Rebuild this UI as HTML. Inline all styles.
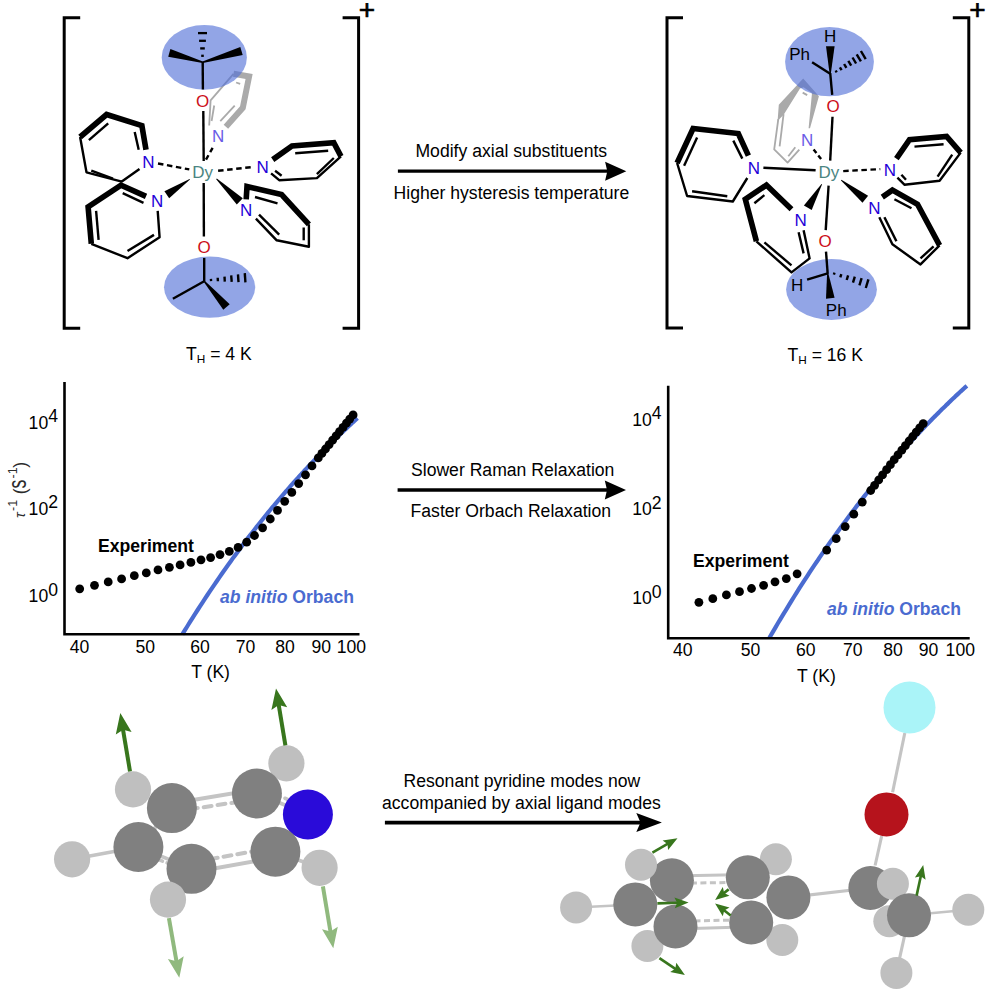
<!DOCTYPE html>
<html><head><meta charset="utf-8"><title>Figure</title>
<style>html,body{margin:0;padding:0;background:#fff}svg{display:block}</style></head>
<body>
<svg width="996" height="996" viewBox="0 0 996 996">
<rect width="996" height="996" fill="#fff"/>
<path d="M80.2 17.7 L64.2 17.7 L64.2 328.2 L80.2 328.2" fill="none" stroke="#000" stroke-width="3.0" stroke-linejoin="miter" stroke-linecap="butt"/>
<path d="M342.6 17.7 L358.6 17.7 L358.6 328.2 L342.6 328.2" fill="none" stroke="#000" stroke-width="3.0" stroke-linejoin="miter" stroke-linecap="butt"/>
<path d="M683.0 17.7 L667.0 17.7 L667.0 328.0 L683.0 328.0" fill="none" stroke="#000" stroke-width="3.0" stroke-linejoin="miter" stroke-linecap="butt"/>
<path d="M952.8 17.7 L968.8 17.7 L968.8 328.0 L952.8 328.0" fill="none" stroke="#000" stroke-width="3.0" stroke-linejoin="miter" stroke-linecap="butt"/>
<text x="366.9" y="19.3" font-family="Liberation Sans, Arial, sans-serif" font-size="28" fill="#000" text-anchor="middle" font-weight="normal" font-style="normal" stroke="#000" stroke-width="0.7">+</text>
<text x="977.5" y="19.1" font-family="Liberation Sans, Arial, sans-serif" font-size="28" fill="#000" text-anchor="middle" font-weight="normal" font-style="normal" stroke="#000" stroke-width="0.7">+</text>
<path d="M233.5 73.9 L210.6 100.4 L209.2 125.5" fill="none" stroke="#aaaaaa" stroke-width="1.8" stroke-linejoin="round" stroke-linecap="butt"/>
<line x1="220.3" y1="121.1" x2="234.7" y2="105.7" stroke="#aaaaaa" stroke-width="1.8" stroke-linecap="butt" />
<line x1="214.2" y1="105.5" x2="211.6" y2="121.0" stroke="#aaaaaa" stroke-width="1.8" stroke-linecap="butt" />
<line x1="236.1" y1="82.5" x2="240.2" y2="83.9" stroke="#aaaaaa" stroke-width="1.8" stroke-linecap="butt" />
<path d="M225.9 126.8 L242.8 107.8 L249.1 76.5 L233.5 73.7" fill="none" stroke="#aaaaaa" stroke-width="6.0" stroke-linejoin="miter" stroke-linecap="butt"/>
<ellipse cx="204.3" cy="57.4" rx="42.6" ry="32.4" fill="#4f6ed7" fill-opacity="0.62"/>
<ellipse cx="209.6" cy="287.2" rx="45.6" ry="30.6" fill="#4f6ed7" fill-opacity="0.62"/>
<text x="218.1" y="141.8" font-family="Liberation Sans, Arial, sans-serif" font-size="17.0" fill="#6a5be6" text-anchor="middle" font-weight="normal" font-style="normal" >N</text>
<line x1="202.7" y1="61.8" x2="202.9" y2="89.6" stroke="#000" stroke-width="2.4" stroke-linecap="butt" />
<polygon points="202.9,61.5 170.4,48.9 168.2,56.7 202.5,63.1" fill="#000"/>
<polygon points="202.9,63.1 242.7,55.0 240.3,47.0 202.5,61.5" fill="#000"/>
<line x1="198.0" y1="33.1" x2="207.0" y2="33.1" stroke="#000" stroke-width="2.3" stroke-linecap="butt" />
<line x1="199.1" y1="40.8" x2="205.9" y2="40.8" stroke="#000" stroke-width="2.3" stroke-linecap="butt" />
<line x1="200.2" y1="48.4" x2="204.8" y2="48.4" stroke="#000" stroke-width="2.3" stroke-linecap="butt" />
<line x1="201.2" y1="55.8" x2="203.8" y2="55.8" stroke="#000" stroke-width="2.3" stroke-linecap="butt" />
<text x="202.6" y="106.6" font-family="Liberation Sans, Arial, sans-serif" font-size="17.0" fill="#cc1020" text-anchor="middle" font-weight="normal" font-style="normal" >O</text>
<line x1="203.3" y1="111.0" x2="203.7" y2="161.0" stroke="#000" stroke-width="2.4" stroke-linecap="butt" />
<line x1="203.7" y1="183.0" x2="203.9" y2="236.5" stroke="#000" stroke-width="2.4" stroke-linecap="butt" />
<text x="204.2" y="252.7" font-family="Liberation Sans, Arial, sans-serif" font-size="17.0" fill="#cc1020" text-anchor="middle" font-weight="normal" font-style="normal" >O</text>
<line x1="204.2" y1="257.9" x2="204.2" y2="281.7" stroke="#000" stroke-width="2.4" stroke-linecap="butt" />
<line x1="204.2" y1="281.2" x2="172.9" y2="298.8" stroke="#000" stroke-width="2.4" stroke-linecap="butt" />
<line x1="211.1" y1="281.1" x2="210.9" y2="278.9" stroke="#000" stroke-width="2.4" stroke-linecap="butt" />
<line x1="217.9" y1="281.3" x2="217.7" y2="277.7" stroke="#000" stroke-width="2.4" stroke-linecap="butt" />
<line x1="224.8" y1="281.6" x2="224.5" y2="276.6" stroke="#000" stroke-width="2.4" stroke-linecap="butt" />
<line x1="231.7" y1="281.8" x2="231.2" y2="275.4" stroke="#000" stroke-width="2.4" stroke-linecap="butt" />
<line x1="238.5" y1="282.1" x2="238.0" y2="274.3" stroke="#000" stroke-width="2.4" stroke-linecap="butt" />
<line x1="245.4" y1="282.3" x2="244.8" y2="273.1" stroke="#000" stroke-width="2.4" stroke-linecap="butt" />
<polygon points="203.7,281.7 223.3,309.8 229.7,304.2 204.7,280.7" fill="#000"/>
<text x="202.7" y="178.3" font-family="Liberation Sans, Arial, sans-serif" font-size="17.0" fill="#4b8582" text-anchor="middle" font-weight="normal" font-style="normal" >Dy</text>
<line x1="158.0" y1="163.5" x2="189.3" y2="169.4" stroke="#000" stroke-width="2.4" stroke-linecap="butt" stroke-dasharray="5.5 3.6"/>
<line x1="218.1" y1="170.8" x2="254.3" y2="166.8" stroke="#000" stroke-width="2.4" stroke-linecap="butt" stroke-dasharray="5.5 3.6"/>
<line x1="206.0" y1="159.6" x2="213.3" y2="146.7" stroke="#000" stroke-width="2.4" stroke-linecap="butt" stroke-dasharray="5 3.5"/>
<polygon points="189.6,178.9 164.4,191.3 169.2,198.3 190.0,179.5" fill="#000"/>
<polygon points="216.2,179.2 236.8,204.5 242.8,198.3 216.8,178.6" fill="#000"/>
<path d="M80.1 137.0 L86.5 172.3 L121.8 181.6 L139.5 169.0" fill="none" stroke="#000" stroke-width="2.4" stroke-linejoin="round" stroke-linecap="butt"/>
<line x1="138.7" y1="149.8" x2="134.7" y2="132.1" stroke="#000" stroke-width="2.4" stroke-linecap="butt" />
<line x1="108.2" y1="123.3" x2="88.9" y2="140.2" stroke="#000" stroke-width="2.4" stroke-linecap="butt" />
<line x1="91.3" y1="170.7" x2="113.0" y2="178.7" stroke="#000" stroke-width="2.4" stroke-linecap="butt" />
<path d="M146.0 149.8 L141.9 125.7 L106.6 114.5 L80.1 137.0" fill="none" stroke="#000" stroke-width="5.6" stroke-linejoin="miter" stroke-linecap="butt"/>
<text x="148.4" y="168.0" font-family="Liberation Sans, Arial, sans-serif" font-size="17.0" fill="#2400d8" text-anchor="middle" font-weight="normal" font-style="normal" >N</text>
<path d="M91.3 243.8 L127.5 258.2 L159.6 237.3 L157.7 210.8" fill="none" stroke="#000" stroke-width="2.4" stroke-linejoin="round" stroke-linecap="butt"/>
<line x1="143.5" y1="202.8" x2="122.7" y2="193.2" stroke="#000" stroke-width="2.4" stroke-linecap="butt" />
<line x1="96.1" y1="210.8" x2="98.6" y2="239.8" stroke="#000" stroke-width="2.4" stroke-linecap="butt" />
<line x1="127.5" y1="251.0" x2="154.0" y2="234.9" stroke="#000" stroke-width="2.4" stroke-linecap="butt" />
<path d="M146.0 196.4 L121.0 185.1 L88.1 206.8 L91.3 243.8" fill="none" stroke="#000" stroke-width="5.6" stroke-linejoin="miter" stroke-linecap="butt"/>
<text x="157.2" y="207.3" font-family="Liberation Sans, Arial, sans-serif" font-size="17.0" fill="#2400d8" text-anchor="middle" font-weight="normal" font-style="normal" >N</text>
<path d="M341.0 156.4 L316.9 178.1 L279.2 180.2 L271.1 173.3" fill="none" stroke="#000" stroke-width="2.4" stroke-linejoin="round" stroke-linecap="butt"/>
<line x1="295.2" y1="153.2" x2="328.2" y2="150.8" stroke="#000" stroke-width="2.4" stroke-linecap="butt" />
<line x1="333.8" y1="158.0" x2="316.9" y2="174.1" stroke="#000" stroke-width="2.4" stroke-linecap="butt" />
<line x1="275.1" y1="170.8" x2="281.6" y2="175.7" stroke="#000" stroke-width="2.4" stroke-linecap="butt" />
<path d="M272.7 159.6 L292.0 146.0 L333.8 142.7 L341.0 156.4" fill="none" stroke="#000" stroke-width="5.6" stroke-linejoin="miter" stroke-linecap="butt"/>
<text x="262.6" y="173.4" font-family="Liberation Sans, Arial, sans-serif" font-size="17.0" fill="#2400d8" text-anchor="middle" font-weight="normal" font-style="normal" >N</text>
<path d="M308.9 224.3 L308.9 246.7 L276.7 240.3 L255.9 218.6" fill="none" stroke="#000" stroke-width="2.4" stroke-linejoin="round" stroke-linecap="butt"/>
<line x1="255.0" y1="197.0" x2="277.5" y2="203.4" stroke="#000" stroke-width="2.4" stroke-linecap="butt" />
<line x1="303.7" y1="227.5" x2="303.7" y2="240.3" stroke="#000" stroke-width="2.4" stroke-linecap="butt" />
<line x1="259.0" y1="214.6" x2="279.2" y2="234.7" stroke="#000" stroke-width="2.4" stroke-linecap="butt" />
<path d="M246.2 199.4 L247.0 186.5 L281.6 194.5 L308.9 224.3" fill="none" stroke="#000" stroke-width="5.6" stroke-linejoin="miter" stroke-linecap="butt"/>
<text x="246.2" y="216.0" font-family="Liberation Sans, Arial, sans-serif" font-size="17.0" fill="#2400d8" text-anchor="middle" font-weight="normal" font-style="normal" >N</text>
<text x="186" y="360.2" font-family="Liberation Sans, Arial, sans-serif" font-size="17.6" fill="#000">T<tspan font-size="11.8" dy="3.2">H</tspan><tspan dy="-3.2"> = 4 K</tspan></text>
<path d="M778.3 119.2 L774.2 149.3 L787.6 162.6 L799.3 149.6" fill="none" stroke="#aaaaaa" stroke-width="1.8" stroke-linejoin="round" stroke-linecap="butt"/>
<line x1="783.6" y1="114.2" x2="779.6" y2="146.3" stroke="#aaaaaa" stroke-width="1.8" stroke-linecap="butt" />
<line x1="788.3" y1="156.3" x2="795.3" y2="147.3" stroke="#aaaaaa" stroke-width="1.8" stroke-linecap="butt" />
<line x1="802.7" y1="92.6" x2="807.2" y2="95.1" stroke="#aaaaaa" stroke-width="1.8" stroke-linecap="butt" />
<polygon points="808.6,128.3 810,128.3 818.9,96.3 803.2,78.6 778.8,104.8 777.6,121 783.8,114.4 800,88.6 803.6,87.2 812,93" fill="#aaaaaa"/>
<ellipse cx="829.5" cy="61.7" rx="44.4" ry="34.6" fill="#4f6ed7" fill-opacity="0.62"/>
<ellipse cx="831.5" cy="289.5" rx="45.4" ry="30.4" fill="#4f6ed7" fill-opacity="0.62"/>
<text x="807.2" y="145.9" font-family="Liberation Sans, Arial, sans-serif" font-size="17.0" fill="#6a5be6" text-anchor="middle" font-weight="normal" font-style="normal" >N</text>
<line x1="830.2" y1="73.2" x2="832.2" y2="94.8" stroke="#000" stroke-width="2.4" stroke-linecap="butt" />
<polygon points="830.8,73.7 834.6,46.3 826.0,46.3 829.6,73.7" fill="#000"/>
<line x1="830.2" y1="73.7" x2="812.1" y2="62.2" stroke="#000" stroke-width="2.4" stroke-linecap="butt" />
<line x1="836.7" y1="72.3" x2="835.7" y2="70.5" stroke="#000" stroke-width="2.4" stroke-linecap="butt" />
<line x1="841.6" y1="70.1" x2="839.9" y2="67.3" stroke="#000" stroke-width="2.4" stroke-linecap="butt" />
<line x1="846.4" y1="67.9" x2="844.1" y2="64.0" stroke="#000" stroke-width="2.4" stroke-linecap="butt" />
<line x1="851.2" y1="65.7" x2="848.3" y2="60.8" stroke="#000" stroke-width="2.4" stroke-linecap="butt" />
<line x1="856.1" y1="63.5" x2="852.5" y2="57.5" stroke="#000" stroke-width="2.4" stroke-linecap="butt" />
<line x1="860.9" y1="61.4" x2="856.7" y2="54.3" stroke="#000" stroke-width="2.4" stroke-linecap="butt" />
<line x1="865.7" y1="59.2" x2="860.9" y2="51.0" stroke="#000" stroke-width="2.4" stroke-linecap="butt" />
<text x="830.2" y="41.8" font-family="Liberation Sans, Arial, sans-serif" font-size="17.0" fill="#000" text-anchor="middle" font-weight="normal" font-style="normal" >H</text>
<text x="799.6" y="59.9" font-family="Liberation Sans, Arial, sans-serif" font-size="17.0" fill="#000" text-anchor="middle" font-weight="normal" font-style="normal" >Ph</text>
<text x="833.0" y="112.0" font-family="Liberation Sans, Arial, sans-serif" font-size="17.0" fill="#cc1020" text-anchor="middle" font-weight="normal" font-style="normal" >O</text>
<line x1="832.5" y1="116.7" x2="830.2" y2="160.6" stroke="#000" stroke-width="2.4" stroke-linecap="butt" />
<line x1="828.6" y1="185.6" x2="825.7" y2="230.1" stroke="#000" stroke-width="2.4" stroke-linecap="butt" />
<text x="825.2" y="246.7" font-family="Liberation Sans, Arial, sans-serif" font-size="17.0" fill="#cc1020" text-anchor="middle" font-weight="normal" font-style="normal" >O</text>
<line x1="826.0" y1="251.6" x2="827.7" y2="273.9" stroke="#000" stroke-width="2.4" stroke-linecap="butt" />
<line x1="827.7" y1="273.4" x2="807.1" y2="279.7" stroke="#000" stroke-width="2.4" stroke-linecap="butt" />
<text x="797.1" y="291.4" font-family="Liberation Sans, Arial, sans-serif" font-size="17.0" fill="#000" text-anchor="middle" font-weight="normal" font-style="normal" >H</text>
<polygon points="827.1,273.5 826.0,298.8 834.6,297.8 828.3,273.3" fill="#000"/>
<text x="836.2" y="316.0" font-family="Liberation Sans, Arial, sans-serif" font-size="17.0" fill="#000" text-anchor="middle" font-weight="normal" font-style="normal" >Ph</text>
<line x1="833.9" y1="274.7" x2="834.5" y2="272.7" stroke="#000" stroke-width="2.4" stroke-linecap="butt" />
<line x1="840.3" y1="277.3" x2="841.3" y2="274.1" stroke="#000" stroke-width="2.4" stroke-linecap="butt" />
<line x1="846.7" y1="280.0" x2="848.1" y2="275.4" stroke="#000" stroke-width="2.4" stroke-linecap="butt" />
<line x1="853.0" y1="282.7" x2="854.8" y2="276.7" stroke="#000" stroke-width="2.4" stroke-linecap="butt" />
<line x1="859.4" y1="285.3" x2="861.6" y2="278.1" stroke="#000" stroke-width="2.4" stroke-linecap="butt" />
<line x1="865.8" y1="288.0" x2="868.4" y2="279.4" stroke="#000" stroke-width="2.4" stroke-linecap="butt" />
<text x="828.9" y="178.4" font-family="Liberation Sans, Arial, sans-serif" font-size="17.0" fill="#4b8582" text-anchor="middle" font-weight="normal" font-style="normal" >Dy</text>
<line x1="763.4" y1="167.7" x2="815.6" y2="170.3" stroke="#000" stroke-width="2.4" stroke-linecap="butt" />
<line x1="843.2" y1="171.1" x2="880.3" y2="169.1" stroke="#000" stroke-width="2.4" stroke-linecap="butt" stroke-dasharray="5.5 3.6"/>
<line x1="813.6" y1="149.6" x2="821.6" y2="159.6" stroke="#000" stroke-width="2.4" stroke-linecap="butt" stroke-dasharray="4.5 3"/>
<polygon points="821.5,183.9 803.9,205.4 811.7,210.0 822.1,184.3" fill="#000"/>
<polygon points="841.0,180.4 862.5,202.7 868.1,195.7 841.4,179.8" fill="#000"/>
<path d="M677.1 163.0 L687.1 196.0 L732.8 201.5 L747.3 178.0" fill="none" stroke="#000" stroke-width="2.4" stroke-linejoin="round" stroke-linecap="butt"/>
<line x1="742.3" y1="158.6" x2="733.3" y2="140.6" stroke="#000" stroke-width="2.4" stroke-linecap="butt" />
<line x1="697.1" y1="137.6" x2="684.1" y2="165.7" stroke="#000" stroke-width="2.4" stroke-linecap="butt" />
<line x1="692.1" y1="191.3" x2="727.3" y2="196.2" stroke="#000" stroke-width="2.4" stroke-linecap="butt" />
<path d="M748.4 155.6 L738.3 133.5 L693.1 128.5 L677.1 163.0" fill="none" stroke="#000" stroke-width="5.6" stroke-linejoin="miter" stroke-linecap="butt"/>
<text x="754.0" y="174.4" font-family="Liberation Sans, Arial, sans-serif" font-size="17.0" fill="#2400d8" text-anchor="middle" font-weight="normal" font-style="normal" >N</text>
<path d="M756.4 241.3 L791.5 272.4 L809.6 258.4 L803.6 230.3" fill="none" stroke="#000" stroke-width="2.4" stroke-linejoin="round" stroke-linecap="butt"/>
<line x1="764.4" y1="195.1" x2="754.4" y2="203.2" stroke="#000" stroke-width="2.4" stroke-linecap="butt" />
<line x1="764.4" y1="242.3" x2="791.5" y2="265.4" stroke="#000" stroke-width="2.4" stroke-linecap="butt" />
<line x1="798.6" y1="232.3" x2="803.6" y2="253.4" stroke="#000" stroke-width="2.4" stroke-linecap="butt" />
<path d="M791.5 209.2 L766.4 185.1 L745.3 199.2 L756.4 241.3" fill="none" stroke="#000" stroke-width="5.6" stroke-linejoin="miter" stroke-linecap="butt"/>
<text x="800.6" y="225.7" font-family="Liberation Sans, Arial, sans-serif" font-size="17.0" fill="#2400d8" text-anchor="middle" font-weight="normal" font-style="normal" >N</text>
<path d="M960.7 152.6 L939.6 180.7 L904.4 184.7 L897.4 177.7" fill="none" stroke="#000" stroke-width="2.4" stroke-linejoin="round" stroke-linecap="butt"/>
<line x1="914.5" y1="146.6" x2="943.6" y2="144.2" stroke="#000" stroke-width="2.4" stroke-linecap="butt" />
<line x1="952.2" y1="154.6" x2="937.6" y2="176.7" stroke="#000" stroke-width="2.4" stroke-linecap="butt" />
<line x1="901.4" y1="174.7" x2="906.0" y2="179.7" stroke="#000" stroke-width="2.4" stroke-linecap="butt" />
<path d="M896.4 158.6 L909.5 139.6 L946.6 136.5 L960.7 152.6" fill="none" stroke="#000" stroke-width="5.6" stroke-linejoin="miter" stroke-linecap="butt"/>
<text x="890.0" y="175.8" font-family="Liberation Sans, Arial, sans-serif" font-size="17.0" fill="#2400d8" text-anchor="middle" font-weight="normal" font-style="normal" >N</text>
<path d="M939.6 245.3 L920.5 264.4 L892.4 244.3 L879.3 217.2" fill="none" stroke="#000" stroke-width="2.4" stroke-linejoin="round" stroke-linecap="butt"/>
<line x1="894.4" y1="199.2" x2="911.5" y2="208.2" stroke="#000" stroke-width="2.4" stroke-linecap="butt" />
<line x1="933.6" y1="246.3" x2="920.5" y2="258.4" stroke="#000" stroke-width="2.4" stroke-linecap="butt" />
<line x1="884.4" y1="217.2" x2="896.4" y2="241.3" stroke="#000" stroke-width="2.4" stroke-linecap="butt" />
<path d="M882.3 197.1 L892.4 190.1 L917.5 204.2 L939.6 245.3" fill="none" stroke="#000" stroke-width="5.6" stroke-linejoin="miter" stroke-linecap="butt"/>
<text x="874.3" y="213.9" font-family="Liberation Sans, Arial, sans-serif" font-size="17.0" fill="#2400d8" text-anchor="middle" font-weight="normal" font-style="normal" >N</text>
<text x="787.5" y="360.5" font-family="Liberation Sans, Arial, sans-serif" font-size="17.6" fill="#000">T<tspan font-size="11.8" dy="3.2">H</tspan><tspan dy="-3.2"> = 16 K</tspan></text>
<text x="511.3" y="157.2" font-family="Liberation Sans, Arial, sans-serif" font-size="17.6" fill="#000" text-anchor="middle" font-weight="normal" font-style="normal" >Modify axial substituents</text>
<line x1="397.9" y1="171.2" x2="608.3" y2="171.2" stroke="#000" stroke-width="3.3" stroke-linecap="butt" />
<polygon points="626.3,171.2 605.1,161.7 607.3,171.2 605.1,180.7" fill="#000"/>
<text x="511.4" y="199.0" font-family="Liberation Sans, Arial, sans-serif" font-size="17.6" fill="#000" text-anchor="middle" font-weight="normal" font-style="normal" >Higher hysteresis temperature</text>
<text x="512.7" y="475.8" font-family="Liberation Sans, Arial, sans-serif" font-size="17.6" fill="#000" text-anchor="middle" font-weight="normal" font-style="normal" >Slower Raman Relaxation</text>
<line x1="397.6" y1="490.0" x2="608.0" y2="490.0" stroke="#000" stroke-width="3.3" stroke-linecap="butt" />
<polygon points="626.0,490.0 604.8,480.5 607.0,490.0 604.8,499.5" fill="#000"/>
<text x="510.8" y="516.6" font-family="Liberation Sans, Arial, sans-serif" font-size="17.6" fill="#000" text-anchor="middle" font-weight="normal" font-style="normal" >Faster Orbach Relaxation</text>
<text x="521.9" y="786.7" font-family="Liberation Sans, Arial, sans-serif" font-size="17.6" fill="#000" text-anchor="middle" font-weight="normal" font-style="normal" >Resonant pyridine modes now</text>
<text x="521.4" y="809.1" font-family="Liberation Sans, Arial, sans-serif" font-size="17.6" fill="#000" text-anchor="middle" font-weight="normal" font-style="normal" >accompanied by axial ligand modes</text>
<line x1="384.9" y1="822.6" x2="641.5" y2="822.6" stroke="#000" stroke-width="3.6" stroke-linecap="butt" />
<polygon points="661.9,822.6 636.3,813.1 640.5,822.6 636.3,832.1" fill="#000"/>
<path d="M182.3 634.4 L184.9 630.1 L187.5 626.0 L190.0 621.9 L192.6 617.8 L195.1 613.9 L197.6 610.0 L200.1 606.1 L202.6 602.3 L205.0 598.6 L207.4 595.0 L209.8 591.4 L212.2 587.9 L214.6 584.4 L216.9 581.0 L219.2 577.6 L221.5 574.3 L223.8 571.0 L226.1 567.8 L228.4 564.6 L230.6 561.5 L232.8 558.4 L235.0 555.4 L237.2 552.4 L239.4 549.5 L241.5 546.6 L243.7 543.7 L245.8 540.9 L247.9 538.1 L250.0 535.4 L252.1 532.7 L254.2 530.1 L256.2 527.4 L258.3 524.8 L260.3 522.3 L262.3 519.8 L264.3 517.3 L266.3 514.8 L268.2 512.4 L270.2 510.0 L272.1 507.7 L274.1 505.4 L276.0 503.1 L277.9 500.8 L279.8 498.6 L281.7 496.3 L283.6 494.2 L285.4 492.0 L287.3 489.9 L289.1 487.8 L290.9 485.7 L292.7 483.7 L294.5 481.6 L296.3 479.6 L298.1 477.7 L299.9 475.7 L301.6 473.8 L303.4 471.9 L305.1 470.0 L306.9 468.1 L308.6 466.3 L310.3 464.5 L312.0 462.7 L313.7 460.9 L315.4 459.1 L317.0 457.4 L318.7 455.7 L320.3 454.0 L322.0 452.3 L323.6 450.6 L325.3 449.0 L326.9 447.3 L328.5 445.7 L330.1 444.1 L331.7 442.6 L333.2 441.0 L334.8 439.5 L336.4 437.9 L337.9 436.4 L339.5 434.9 L341.0 433.5 L342.6 432.0 L344.1 430.5 L345.6 429.1 L347.1 427.7 L348.6 426.3 L350.1 424.9 L351.6 423.5 L353.1 422.2 L354.6 420.8 L356.0 419.5 L357.5 418.2" fill="none" stroke="#4a6bd0" stroke-width="4.2" stroke-linejoin="round" stroke-linecap="butt"/>
<circle cx="79.7" cy="588.8" r="4.4" fill="#000"/>
<circle cx="94.5" cy="585.3" r="4.4" fill="#000"/>
<circle cx="108.2" cy="581.9" r="4.4" fill="#000"/>
<circle cx="121.6" cy="578.9" r="4.4" fill="#000"/>
<circle cx="134.3" cy="575.7" r="4.4" fill="#000"/>
<circle cx="146.3" cy="572.9" r="4.4" fill="#000"/>
<circle cx="158.0" cy="569.9" r="4.4" fill="#000"/>
<circle cx="169.4" cy="567.3" r="4.4" fill="#000"/>
<circle cx="180.1" cy="564.9" r="4.4" fill="#000"/>
<circle cx="190.9" cy="562.4" r="4.4" fill="#000"/>
<circle cx="201.0" cy="559.8" r="4.4" fill="#000"/>
<circle cx="210.6" cy="557.6" r="4.4" fill="#000"/>
<circle cx="220.0" cy="554.6" r="4.4" fill="#000"/>
<circle cx="229.3" cy="551.4" r="4.4" fill="#000"/>
<circle cx="238.1" cy="547.4" r="4.4" fill="#000"/>
<circle cx="246.7" cy="542.2" r="4.4" fill="#000"/>
<circle cx="254.5" cy="535.5" r="4.4" fill="#000"/>
<circle cx="262.6" cy="527.8" r="4.4" fill="#000"/>
<circle cx="270.3" cy="519.0" r="4.4" fill="#000"/>
<circle cx="277.5" cy="510.4" r="4.4" fill="#000"/>
<circle cx="284.7" cy="501.3" r="4.4" fill="#000"/>
<circle cx="291.8" cy="492.4" r="4.4" fill="#000"/>
<circle cx="298.7" cy="483.6" r="4.4" fill="#000"/>
<circle cx="305.5" cy="474.8" r="4.4" fill="#000"/>
<circle cx="312.0" cy="465.9" r="4.4" fill="#000"/>
<circle cx="318.3" cy="457.9" r="4.4" fill="#000"/>
<circle cx="321.9" cy="453.4" r="4.4" fill="#000"/>
<circle cx="325.5" cy="449.0" r="4.4" fill="#000"/>
<circle cx="329.1" cy="444.6" r="4.4" fill="#000"/>
<circle cx="332.6" cy="440.2" r="4.4" fill="#000"/>
<circle cx="336.1" cy="435.9" r="4.4" fill="#000"/>
<circle cx="339.5" cy="431.6" r="4.4" fill="#000"/>
<circle cx="343.0" cy="427.4" r="4.4" fill="#000"/>
<circle cx="346.4" cy="423.2" r="4.4" fill="#000"/>
<circle cx="349.7" cy="419.1" r="4.4" fill="#000"/>
<circle cx="353.1" cy="414.9" r="4.4" fill="#000"/>
<path d="M64.5 382.0 L64.5 634.2 L359.5 634.2" fill="none" stroke="#000" stroke-width="2.6" stroke-linejoin="miter" stroke-linecap="butt"/>
<text x="79.5" y="652.8" font-family="Liberation Sans, Arial, sans-serif" font-size="17.6" fill="#000" text-anchor="middle" font-weight="normal" font-style="normal" >40</text>
<text x="145.3" y="652.8" font-family="Liberation Sans, Arial, sans-serif" font-size="17.6" fill="#000" text-anchor="middle" font-weight="normal" font-style="normal" >50</text>
<text x="200.0" y="652.8" font-family="Liberation Sans, Arial, sans-serif" font-size="17.6" fill="#000" text-anchor="middle" font-weight="normal" font-style="normal" >60</text>
<text x="245.6" y="652.8" font-family="Liberation Sans, Arial, sans-serif" font-size="17.6" fill="#000" text-anchor="middle" font-weight="normal" font-style="normal" >70</text>
<text x="285.1" y="652.8" font-family="Liberation Sans, Arial, sans-serif" font-size="17.6" fill="#000" text-anchor="middle" font-weight="normal" font-style="normal" >80</text>
<text x="321.3" y="652.8" font-family="Liberation Sans, Arial, sans-serif" font-size="17.6" fill="#000" text-anchor="middle" font-weight="normal" font-style="normal" >90</text>
<text x="351.4" y="652.8" font-family="Liberation Sans, Arial, sans-serif" font-size="17.6" fill="#000" text-anchor="middle" font-weight="normal" font-style="normal" >100</text>
<text x="210.6" y="677.5" font-family="Liberation Sans, Arial, sans-serif" font-size="17.6" fill="#000" text-anchor="middle" font-weight="normal" font-style="normal" >T (K)</text>
<text x="28.6" y="428.6" font-family="Liberation Sans, Arial, sans-serif" font-size="17.6" fill="#000" text-anchor="start" font-weight="normal" font-style="normal" >10</text>
<text x="48.2" y="421.8" font-family="Liberation Sans, Arial, sans-serif" font-size="17.6" fill="#000" text-anchor="start" font-weight="normal" font-style="normal" >4</text>
<text x="28.6" y="514.6" font-family="Liberation Sans, Arial, sans-serif" font-size="17.6" fill="#000" text-anchor="start" font-weight="normal" font-style="normal" >10</text>
<text x="48.2" y="508.2" font-family="Liberation Sans, Arial, sans-serif" font-size="17.6" fill="#000" text-anchor="start" font-weight="normal" font-style="normal" >2</text>
<text x="28.6" y="602.0" font-family="Liberation Sans, Arial, sans-serif" font-size="17.6" fill="#000" text-anchor="start" font-weight="normal" font-style="normal" >10</text>
<text x="48.2" y="595.5" font-family="Liberation Sans, Arial, sans-serif" font-size="17.6" fill="#000" text-anchor="start" font-weight="normal" font-style="normal" >0</text>
<g transform="translate(25.7,518) rotate(-90)" font-family="Liberation Sans, Arial, sans-serif" fill="#2c2c2c"><text x="0" y="-0.5" font-size="15" font-style="italic">τ</text><text x="7" y="-8.7" font-size="12.5">-1</text><text x="23.8" y="0" font-size="17.6">(</text><text transform="translate(29.6,0) scale(1,1.42)" font-size="17.6">s</text><text x="39.6" y="-8.7" font-size="12.5">-1</text><text x="50.3" y="0" font-size="17.6">)</text></g>
<text x="98.0" y="551.7" font-family="Liberation Sans, Arial, sans-serif" font-size="17.6" fill="#000" text-anchor="start" font-weight="bold" font-style="normal" >Experiment</text>
<text x="220" y="603" font-family="Liberation Sans, Arial, sans-serif" font-size="17.6" fill="#4a6bd0" font-weight="bold"><tspan font-style="italic">ab initio</tspan> Orbach</text>
<path d="M769.4 637.8 L772.3 632.9 L775.1 628.1 L777.9 623.3 L780.7 618.6 L783.4 614.1 L786.2 609.6 L788.9 605.1 L791.5 600.8 L794.2 596.5 L796.8 592.4 L799.4 588.2 L802.0 584.2 L804.6 580.2 L807.1 576.3 L809.6 572.4 L812.1 568.6 L814.6 564.9 L817.1 561.3 L819.5 557.6 L821.9 554.1 L824.4 550.6 L826.7 547.2 L829.1 543.8 L831.4 540.4 L833.8 537.2 L836.1 533.9 L838.4 530.7 L840.7 527.6 L842.9 524.5 L845.2 521.5 L847.4 518.5 L849.6 515.5 L851.8 512.6 L854.0 509.7 L856.1 506.9 L858.3 504.1 L860.4 501.3 L862.5 498.6 L864.6 495.9 L866.7 493.3 L868.8 490.7 L870.9 488.1 L872.9 485.6 L874.9 483.1 L877.0 480.6 L879.0 478.2 L881.0 475.8 L882.9 473.4 L884.9 471.1 L886.9 468.7 L888.8 466.5 L890.7 464.2 L892.6 462.0 L894.5 459.8 L896.4 457.6 L898.3 455.5 L900.2 453.4 L902.1 451.3 L903.9 449.2 L905.7 447.2 L907.6 445.1 L909.4 443.1 L911.2 441.2 L913.0 439.2 L914.8 437.3 L916.5 435.4 L918.3 433.5 L920.0 431.7 L921.8 429.8 L923.5 428.0 L925.2 426.2 L926.9 424.4 L928.6 422.7 L930.3 421.0 L932.0 419.2 L933.7 417.5 L935.4 415.9 L937.0 414.2 L938.7 412.6 L940.3 410.9 L941.9 409.3 L943.6 407.7 L945.2 406.2 L946.8 404.6 L948.4 403.1 L950.0 401.5 L951.5 400.0 L953.1 398.5 L954.7 397.1 L956.2 395.6 L957.8 394.1 L959.3 392.7 L960.8 391.3 L962.4 389.9 L963.9 388.5 L965.4 387.1 L966.9 385.8" fill="none" stroke="#4a6bd0" stroke-width="4.2" stroke-linejoin="round" stroke-linecap="butt"/>
<circle cx="698.9" cy="602.3" r="4.4" fill="#000"/>
<circle cx="712.8" cy="598.7" r="4.4" fill="#000"/>
<circle cx="726.4" cy="594.9" r="4.4" fill="#000"/>
<circle cx="739.5" cy="591.7" r="4.4" fill="#000"/>
<circle cx="751.5" cy="588.5" r="4.4" fill="#000"/>
<circle cx="763.6" cy="585.3" r="4.4" fill="#000"/>
<circle cx="775.0" cy="581.8" r="4.4" fill="#000"/>
<circle cx="786.3" cy="578.6" r="4.4" fill="#000"/>
<circle cx="797.1" cy="573.8" r="4.4" fill="#000"/>
<circle cx="826.7" cy="550.1" r="4.4" fill="#000"/>
<circle cx="836.2" cy="538.7" r="4.4" fill="#000"/>
<circle cx="845.2" cy="526.6" r="4.4" fill="#000"/>
<circle cx="853.8" cy="514.2" r="4.4" fill="#000"/>
<circle cx="862.3" cy="502.1" r="4.4" fill="#000"/>
<circle cx="870.7" cy="490.5" r="4.4" fill="#000"/>
<circle cx="874.6" cy="485.3" r="4.4" fill="#000"/>
<circle cx="878.7" cy="480.0" r="4.4" fill="#000"/>
<circle cx="882.6" cy="474.8" r="4.4" fill="#000"/>
<circle cx="886.6" cy="469.7" r="4.4" fill="#000"/>
<circle cx="890.4" cy="464.7" r="4.4" fill="#000"/>
<circle cx="894.2" cy="459.7" r="4.4" fill="#000"/>
<circle cx="898.0" cy="454.9" r="4.4" fill="#000"/>
<circle cx="901.8" cy="450.2" r="4.4" fill="#000"/>
<circle cx="905.4" cy="445.6" r="4.4" fill="#000"/>
<circle cx="909.1" cy="441.0" r="4.4" fill="#000"/>
<circle cx="912.7" cy="436.5" r="4.4" fill="#000"/>
<circle cx="916.2" cy="432.1" r="4.4" fill="#000"/>
<circle cx="919.7" cy="427.8" r="4.4" fill="#000"/>
<circle cx="923.2" cy="423.6" r="4.4" fill="#000"/>
<path d="M668.2 385.7 L668.2 638.2 L969.7 638.2" fill="none" stroke="#000" stroke-width="2.6" stroke-linejoin="miter" stroke-linecap="butt"/>
<text x="682.7" y="656.4" font-family="Liberation Sans, Arial, sans-serif" font-size="17.6" fill="#000" text-anchor="middle" font-weight="normal" font-style="normal" >40</text>
<text x="750.5" y="656.4" font-family="Liberation Sans, Arial, sans-serif" font-size="17.6" fill="#000" text-anchor="middle" font-weight="normal" font-style="normal" >50</text>
<text x="805.7" y="656.4" font-family="Liberation Sans, Arial, sans-serif" font-size="17.6" fill="#000" text-anchor="middle" font-weight="normal" font-style="normal" >60</text>
<text x="852.8" y="656.4" font-family="Liberation Sans, Arial, sans-serif" font-size="17.6" fill="#000" text-anchor="middle" font-weight="normal" font-style="normal" >70</text>
<text x="893.0" y="656.4" font-family="Liberation Sans, Arial, sans-serif" font-size="17.6" fill="#000" text-anchor="middle" font-weight="normal" font-style="normal" >80</text>
<text x="928.5" y="656.4" font-family="Liberation Sans, Arial, sans-serif" font-size="17.6" fill="#000" text-anchor="middle" font-weight="normal" font-style="normal" >90</text>
<text x="960.3" y="656.4" font-family="Liberation Sans, Arial, sans-serif" font-size="17.6" fill="#000" text-anchor="middle" font-weight="normal" font-style="normal" >100</text>
<text x="816.4" y="682.3" font-family="Liberation Sans, Arial, sans-serif" font-size="17.6" fill="#000" text-anchor="middle" font-weight="normal" font-style="normal" >T (K)</text>
<text x="632.2" y="425.8" font-family="Liberation Sans, Arial, sans-serif" font-size="17.6" fill="#000" text-anchor="start" font-weight="normal" font-style="normal" >10</text>
<text x="651.8" y="419.2" font-family="Liberation Sans, Arial, sans-serif" font-size="17.6" fill="#000" text-anchor="start" font-weight="normal" font-style="normal" >4</text>
<text x="632.2" y="515.0" font-family="Liberation Sans, Arial, sans-serif" font-size="17.6" fill="#000" text-anchor="start" font-weight="normal" font-style="normal" >10</text>
<text x="651.8" y="508.6" font-family="Liberation Sans, Arial, sans-serif" font-size="17.6" fill="#000" text-anchor="start" font-weight="normal" font-style="normal" >2</text>
<text x="632.2" y="604.3" font-family="Liberation Sans, Arial, sans-serif" font-size="17.6" fill="#000" text-anchor="start" font-weight="normal" font-style="normal" >10</text>
<text x="651.8" y="597.9" font-family="Liberation Sans, Arial, sans-serif" font-size="17.6" fill="#000" text-anchor="start" font-weight="normal" font-style="normal" >0</text>
<text x="693.0" y="566.5" font-family="Liberation Sans, Arial, sans-serif" font-size="17.6" fill="#000" text-anchor="start" font-weight="bold" font-style="normal" >Experiment</text>
<text x="827" y="614.6" font-family="Liberation Sans, Arial, sans-serif" font-size="17.6" fill="#4a6bd0" font-weight="bold"><tspan font-style="italic">ab initio</tspan> Orbach</text>
<line x1="72.1" y1="859.3" x2="138.4" y2="847.0" stroke="#c4c4c4" stroke-width="3.6" stroke-linecap="butt" />
<line x1="171.9" y1="803.5" x2="256.9" y2="789.4" stroke="#c4c4c4" stroke-width="4" stroke-linecap="butt" />
<line x1="176.0" y1="811.4" x2="256.9" y2="799.0" stroke="#c4c4c4" stroke-width="4" stroke-linecap="round" stroke-dasharray="8 6"/>
<line x1="196.0" y1="861.7" x2="275.4" y2="847.3" stroke="#c4c4c4" stroke-width="4" stroke-linecap="round" stroke-dasharray="8 6"/>
<line x1="191.6" y1="872.5" x2="275.4" y2="857.5" stroke="#c4c4c4" stroke-width="4" stroke-linecap="butt" />
<line x1="171.9" y1="808.1" x2="138.4" y2="847.0" stroke="#c4c4c4" stroke-width="3.6" stroke-linecap="butt" />
<line x1="138.4" y1="847.0" x2="191.6" y2="868.7" stroke="#c4c4c4" stroke-width="3.6" stroke-linecap="butt" />
<line x1="142.0" y1="853.0" x2="195.0" y2="874.0" stroke="#c4c4c4" stroke-width="3.6" stroke-linecap="round" stroke-dasharray="4 5"/>
<line x1="256.9" y1="793.5" x2="307.9" y2="814.5" stroke="#c4c4c4" stroke-width="3.6" stroke-linecap="butt" />
<line x1="260.0" y1="788.0" x2="311.0" y2="809.0" stroke="#c4c4c4" stroke-width="3.6" stroke-linecap="round" stroke-dasharray="4 5"/>
<line x1="275.4" y1="851.7" x2="319.6" y2="867.8" stroke="#c4c4c4" stroke-width="3.6" stroke-linecap="butt" />
<line x1="307.9" y1="814.5" x2="275.4" y2="851.7" stroke="#c4c4c4" stroke-width="3.6" stroke-linecap="butt" />
<circle cx="133.0" cy="789.4" r="18.1" fill="#bfbfbf"/>
<circle cx="286.4" cy="763.3" r="18.1" fill="#bfbfbf"/>
<circle cx="72.1" cy="859.3" r="18.1" fill="#bfbfbf"/>
<circle cx="319.6" cy="867.8" r="18.1" fill="#bfbfbf"/>
<circle cx="307.9" cy="814.5" r="25" fill="#2a0bd9"/>
<circle cx="171.9" cy="808.1" r="25" fill="#808080"/>
<circle cx="138.4" cy="847.0" r="25" fill="#808080"/>
<circle cx="191.5" cy="868.8" r="25" fill="#808080"/>
<circle cx="256.9" cy="793.5" r="25" fill="#808080"/>
<circle cx="275.4" cy="851.7" r="25" fill="#808080"/>
<circle cx="168.0" cy="899.6" r="18.1" fill="#bfbfbf"/>
<line x1="130.0" y1="771.3" x2="122.8" y2="728.3" stroke="#38761d" stroke-width="4" stroke-linecap="butt" />
<polygon points="120.3,713.1 131.6,732.0 123.1,729.7 115.8,734.6" fill="#38761d"/>
<line x1="285.4" y1="745.3" x2="278.5" y2="703.6" stroke="#38761d" stroke-width="4" stroke-linecap="butt" />
<polygon points="276.0,688.4 287.2,707.3 278.7,705.0 271.4,709.9" fill="#38761d"/>
<line x1="168.9" y1="918.2" x2="176.7" y2="962.7" stroke="#90b97e" stroke-width="4" stroke-linecap="butt" />
<polygon points="179.3,977.8 167.9,959.0 176.4,961.2 183.7,956.2" fill="#90b97e"/>
<line x1="322.9" y1="886.4" x2="330.7" y2="933.0" stroke="#90b97e" stroke-width="4" stroke-linecap="butt" />
<polygon points="333.3,948.2 322.0,929.3 330.5,931.6 337.8,926.7" fill="#90b97e"/>
<line x1="904.8" y1="733.0" x2="892.6" y2="792.2" stroke="#c4c4c4" stroke-width="3.1" stroke-linecap="butt" />
<line x1="881.7" y1="835.8" x2="875.1" y2="865.5" stroke="#c4c4c4" stroke-width="3.1" stroke-linecap="butt" />
<line x1="576.1" y1="907.4" x2="635.3" y2="904.4" stroke="#c4c4c4" stroke-width="2.5" stroke-linecap="butt" />
<line x1="788.4" y1="897.4" x2="870.0" y2="888.0" stroke="#c4c4c4" stroke-width="3.1" stroke-linecap="butt" />
<line x1="909.0" y1="915.3" x2="968.3" y2="909.8" stroke="#c4c4c4" stroke-width="2.5" stroke-linecap="butt" />
<line x1="909.0" y1="915.3" x2="896.4" y2="972.9" stroke="#c4c4c4" stroke-width="3.1" stroke-linecap="butt" />
<line x1="671.9" y1="876.0" x2="747.8" y2="874.6" stroke="#c4c4c4" stroke-width="3" stroke-linecap="butt" />
<line x1="671.9" y1="883.4" x2="747.8" y2="882.2" stroke="#c4c4c4" stroke-width="3" stroke-linecap="butt" stroke-dasharray="6 3.5"/>
<line x1="675.5" y1="921.4" x2="751.2" y2="919.6" stroke="#c4c4c4" stroke-width="3" stroke-linecap="butt" stroke-dasharray="6 3.5"/>
<line x1="675.5" y1="929.0" x2="751.2" y2="926.8" stroke="#c4c4c4" stroke-width="3" stroke-linecap="butt" />
<circle cx="909.5" cy="707.5" r="26" fill="#aaf4f8"/>
<circle cx="886.5" cy="814.4" r="22" fill="#b6131c"/>
<circle cx="576.1" cy="907.4" r="16" fill="#bfbfbf"/>
<circle cx="647.4" cy="946.0" r="16" fill="#bfbfbf"/>
<circle cx="671.9" cy="880.3" r="22" fill="#808080"/>
<circle cx="641.0" cy="864.7" r="16" fill="#bfbfbf"/>
<circle cx="675.5" cy="926.5" r="22" fill="#808080"/>
<circle cx="635.3" cy="904.4" r="22" fill="#808080"/>
<circle cx="775.9" cy="859.2" r="16" fill="#bfbfbf"/>
<circle cx="782.3" cy="940.0" r="16" fill="#bfbfbf"/>
<circle cx="747.8" cy="877.3" r="22" fill="#808080"/>
<circle cx="751.2" cy="922.5" r="22" fill="#808080"/>
<circle cx="788.4" cy="897.4" r="22" fill="#808080"/>
<circle cx="889.3" cy="921.2" r="16" fill="#bfbfbf"/>
<circle cx="870.4" cy="888.0" r="22" fill="#808080"/>
<circle cx="892.9" cy="883.7" r="16" fill="#bfbfbf"/>
<circle cx="968.3" cy="909.8" r="16" fill="#bfbfbf"/>
<circle cx="896.4" cy="972.9" r="16" fill="#bfbfbf"/>
<circle cx="909.0" cy="915.3" r="22" fill="#808080"/>
<line x1="652.4" y1="852.6" x2="668.4" y2="843.4" stroke="#38761d" stroke-width="2.6" stroke-linecap="butt" />
<polygon points="677.5,838.2 668.1,849.9 667.5,843.9 662.6,840.4" fill="#38761d"/>
<line x1="657.4" y1="903.4" x2="678.1" y2="902.7" stroke="#38761d" stroke-width="2.6" stroke-linecap="butt" />
<polygon points="688.6,902.4 674.8,908.3 677.1,902.8 674.4,897.4" fill="#38761d"/>
<line x1="659.4" y1="958.2" x2="676.1" y2="969.3" stroke="#38761d" stroke-width="2.6" stroke-linecap="butt" />
<polygon points="684.9,975.1 670.2,972.0 675.3,968.8 676.3,962.8" fill="#38761d"/>
<line x1="728.7" y1="889.4" x2="723.4" y2="893.5" stroke="#38761d" stroke-width="2.6" stroke-linecap="butt" />
<polygon points="715.1,900.0 722.8,887.1 724.2,892.9 729.5,895.7" fill="#38761d"/>
<line x1="730.7" y1="915.5" x2="723.4" y2="909.8" stroke="#38761d" stroke-width="2.6" stroke-linecap="butt" />
<polygon points="715.1,903.4 729.5,907.6 724.2,910.4 722.8,916.3" fill="#38761d"/>
<line x1="916.6" y1="895.6" x2="921.0" y2="875.3" stroke="#38761d" stroke-width="2.6" stroke-linecap="butt" />
<polygon points="923.2,865.0 925.6,879.8 920.8,876.2 914.9,877.5" fill="#38761d"/>
</svg>
</body></html>
